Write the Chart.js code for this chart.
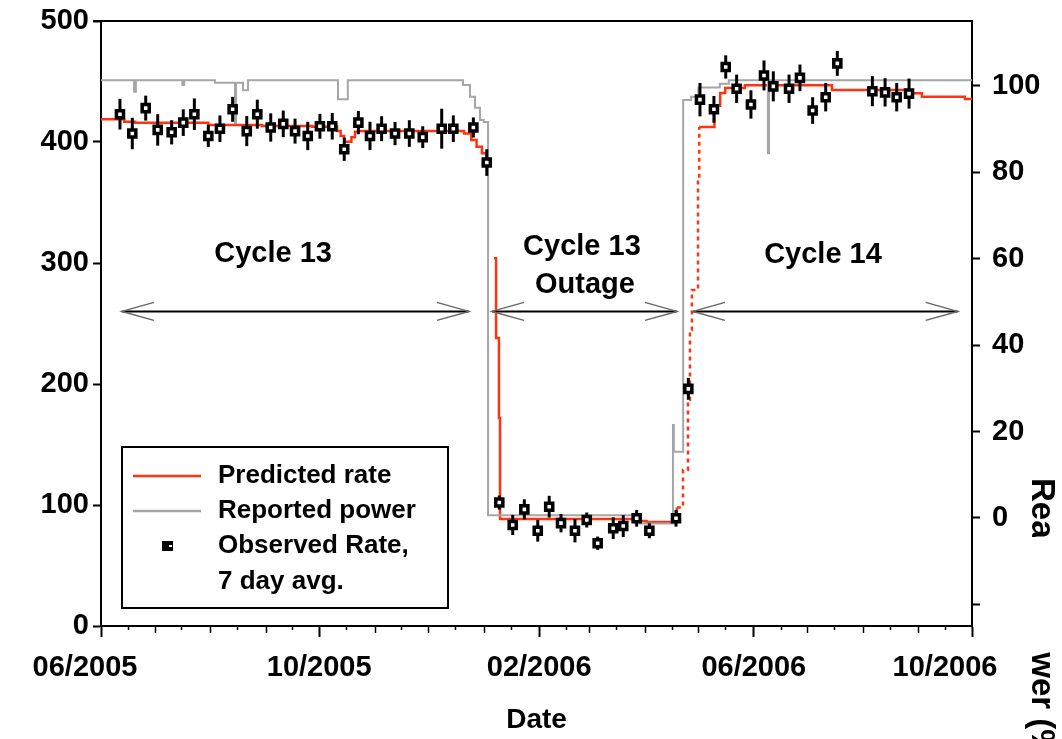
<!DOCTYPE html>
<html>
<head>
<meta charset="utf-8">
<title>Observed vs predicted rate</title>
<script src="https://cdn.jsdelivr.net/npm/chart.js@4.4.0/dist/chart.umd.min.js"></script>
<style>
  html, body { margin: 0; padding: 0; background: #fff; }
</style>
</head>
<body>
<canvas id="rate-chart" width="1062" height="739"></canvas>
<script>
// x values are days since 01/06/2005
const obsDays = [10.6, 17.5, 25, 31.7, 39.5, 46, 52.2, 60, 66.5, 73.6, 81.5, 87.4, 94.9, 101.9, 108.5, 115.6, 122.4, 129.3, 136, 143.9,
    150.4, 156.9, 164.4, 172.4, 179.9, 190.5, 197, 208.2, 215.7,
    222.7, 230.2, 236.7, 244.2, 250.6, 257.2, 265, 271.6, 277.7, 286.4, 292, 299.5, 306.6, 321.5, 328.4,
    334.9, 342.7, 349.3, 355.4, 363.4, 370.7, 375.9, 384.7, 390.8, 397.9, 405.2, 411.7, 431.3, 438.4, 444.9, 451.8];
const obsRate = [423, 407, 428, 410, 408, 416, 423, 405, 411, 427, 409, 423, 412, 415, 409, 405, 413, 413, 394, 416,
    405, 411, 407, 407, 404, 411, 411, 412, 383,
    102, 83.5, 96.4, 78.7, 98.6, 85, 78.7, 87.6, 68.4, 80.8, 82.6, 89, 78.7, 89, 196,
    435, 427, 462, 444, 431, 455, 446, 444, 453, 426, 437, 465, 442, 441, 437, 440];
const obsErr = [12.7, 13, 10.3, 13, 10, 11, 13, 9.2, 11, 10.3, 12.4, 12, 11.7, 11, 10.3, 11.7, 10.3, 11, 9.6, 9.6,
    11.7, 10.3, 9.6, 11, 9, 16.5, 11, 8.3, 11,
    5.8, 8.3, 8.3, 9, 9, 7.6, 9.6, 6.2, 5.5, 9, 9, 6.9, 6.2, 6.9, 9,
    13.8, 11, 9.6, 11.7, 11.7, 12.4, 12.4, 11.7, 11, 11, 11.7, 10.3, 12.4, 11.7, 11.7, 12.4];

const predDays = [0, 13, 19, 60, 90, 118, 132, 134, 136, 140, 142, 144, 203, 207, 210, 213, 215.5, 216.5,
    219.7, 220.9, 222.5, 223.1, 301.4, 305, 322, 325.4, 328.2, 329.3, 330.4, 333.8, 334.5, 343, 346.2, 349, 360,
    408.7, 450, 459, 483, 487];
const predRate = [418.7, 416.8, 416, 414, 413.2, 412.6, 409, 405, 400.3, 404, 408.5, 409, 407, 401.7, 396, 390.7, 385, null,
    304, 238, 172, 88.4, 86.8, 86, 98, 129, 187, 244.6, 277.7, 368.6, 412.4, 430, 440.5, 444.6, 447,
    443, 440.2, 437.4, 435.5, 435.5];

const powerDays = [0, 18.5, 19.5, 45.5, 46.5, 63.7, 74.9, 75.5, 79.4, 82.2, 132.5, 138, 202.4, 206.3, 209.1, 211.9, 214,
    216.4, 301.4, 319.8, 320.3, 325.5, 330, 334, 346, 351, 372.9, 373.5, 487];
const powerPct = [101.3, 98.6, 101.3, 100.2, 101.3, 100.7, 91.4, 100.7, 99, 101.3, 96.9, 101.3, 100.2, 97.5, 94.9, 92.1, 91.6,
    0.6, -1.3, 21.5, 15.3, 96.7, 97.5, 99.6, 100.5, 101.3, 84.4, 101.3, 101.3];

const dateLabels = ["06/2005", "10/2005", "02/2006", "06/2006", "10/2006"];
const dateLabelShift = [-16, 0, 0, 0, -27];
const rightTicks = [-20, 0, 20, 40, 60, 80, 100];

const seriesNames = ["Predicted rate", "Reported power", "Observed Rate,", "7 day avg."];
const phaseArrows = [[11.7, 205.7], [218.6, 322], [331, 479]];
const phaseText = [
    { text: "Cycle 13", day: 96.2, value: 307.4 },
    { text: "Cycle 13", day: 268.9, value: 313.2 },
    { text: "Outage", day: 270.6, value: 281.8 },
    { text: "Cycle 14", day: 403.7, value: 306.6 }
];

const FONT = "'Liberation Sans', Arial, sans-serif";
const RED = "#ff3311";
const GRAY = "#a6a6a6";

// month starts as day offsets
const start = Date.UTC(2005, 5, 1);
const monthDays = [];
const midMonthDays = [];
for (let m = 0; m <= 16; m++) {
    monthDays.push((Date.UTC(2005, 5 + m, 1) - start) / 86400000);
    if (m < 16) midMonthDays.push((Date.UTC(2005, 5 + m, 16) - start) / 86400000);
}
const labelledDays = monthDays.filter((d, i) => i % 4 === 0);

function pairs(xs, ys) {
    return xs.map((x, i) => ({ x: x, y: ys[i] }));
}

// vertical axes: fixed width, and no extra room for the top/bottom labels
function fitVertical(width) {
    return scale => {
        scale.width = width;
        scale.paddingTop = 0;
        scale.paddingBottom = 0;
    };
}

const errorBars = {
    id: "errorBars",
    beforeDatasetDraw(chart, args) {
        if (args.index !== 2) return;
        const ctx = chart.ctx;
        const x = chart.scales.x, y = chart.scales.y;
        ctx.save();
        ctx.strokeStyle = "#000";
        ctx.lineWidth = 3;
        obsDays.forEach((d, i) => {
            const px = x.getPixelForValue(d);
            ctx.beginPath();
            ctx.moveTo(px, y.getPixelForValue(obsRate[i] - obsErr[i]));
            ctx.lineTo(px, y.getPixelForValue(obsRate[i] + obsErr[i]));
            ctx.stroke();
        });
        ctx.restore();
    }
};

function arrowHead(ctx, x, y, dir) {
    ctx.beginPath();
    ctx.moveTo(x + dir * 32, y - 9);
    ctx.lineTo(x, y);
    ctx.lineTo(x + dir * 32, y + 9);
    ctx.stroke();
}

const decorations = {
    id: "decorations",
    afterDraw(chart) {
        const ctx = chart.ctx;
        const ca = chart.chartArea;
        const x = chart.scales.x, y = chart.scales.y;
        ctx.save();

        // top frame line
        ctx.strokeStyle = "#000";
        ctx.lineWidth = 2;
        ctx.beginPath();
        ctx.moveTo(ca.left - 8, ca.top);
        ctx.lineTo(ca.right, ca.top);
        ctx.stroke();

        // small x ticks
        ctx.lineWidth = 1.5;
        monthDays.forEach(d => {
            if (labelledDays.includes(d)) return;
            const px = Math.round(x.getPixelForValue(d)) + 0.5;
            ctx.beginPath();
            ctx.moveTo(px, ca.bottom);
            ctx.lineTo(px, ca.bottom + 7);
            ctx.stroke();
        });
        midMonthDays.forEach(d => {
            const px = Math.round(x.getPixelForValue(d)) + 0.5;
            ctx.beginPath();
            ctx.moveTo(px, ca.bottom);
            ctx.lineTo(px, ca.bottom + 4);
            ctx.stroke();
        });

        // date labels, the end ones pulled inwards like the source
        ctx.fillStyle = "#000";
        ctx.font = "bold 29px " + FONT;
        ctx.textAlign = "center";
        ctx.textBaseline = "middle";
        labelledDays.forEach((d, i) => {
            ctx.fillText(dateLabels[i], x.getPixelForValue(d) + dateLabelShift[i], ca.bottom + 42);
        });

        // phase arrows and text
        const ay = y.getPixelForValue(260);
        phaseArrows.forEach(a => {
            const x1 = x.getPixelForValue(a[0]);
            const x2 = x.getPixelForValue(a[1]);
            ctx.strokeStyle = "#000";
            ctx.lineWidth = 2;
            ctx.beginPath();
            ctx.moveTo(x1, ay);
            ctx.lineTo(x2, ay);
            ctx.stroke();
            ctx.strokeStyle = "#666";
            ctx.lineWidth = 1.5;
            arrowHead(ctx, x1, ay, 1);
            arrowHead(ctx, x2, ay, -1);
        });
        ctx.fillStyle = "#000";
        phaseText.forEach(t => {
            ctx.fillText(t.text, x.getPixelForValue(t.day), y.getPixelForValue(t.value));
        });

        // legend box
        const lx = ca.left + 21, ly = ca.bottom - 179;
        ctx.fillStyle = "#fff";
        ctx.fillRect(lx, ly, 326, 161);
        ctx.strokeStyle = "#000";
        ctx.lineWidth = 2;
        ctx.strokeRect(lx, ly, 326, 161);
        const rows = [ly + 29, ly + 64, ly + 99, ly + 135];
        ctx.lineWidth = 2.5;
        ctx.strokeStyle = RED;
        ctx.beginPath(); ctx.moveTo(lx + 11, rows[0]); ctx.lineTo(lx + 79, rows[0]); ctx.stroke();
        ctx.strokeStyle = GRAY;
        ctx.beginPath(); ctx.moveTo(lx + 11, rows[1]); ctx.lineTo(lx + 79, rows[1]); ctx.stroke();
        ctx.fillStyle = "#000";
        ctx.fillRect(lx + 40, rows[2] - 5, 11, 10);
        ctx.fillStyle = "#fff";
        ctx.fillRect(lx + 47, rows[2] - 1, 3, 2);
        ctx.fillStyle = "#000";
        ctx.font = "bold 26px " + FONT;
        ctx.textAlign = "left";
        seriesNames.forEach((s, i) => ctx.fillText(s, lx + 96, rows[i]));

        // right axis title, partly hidden as in the source figure
        ctx.save();
        ctx.beginPath();
        ctx.rect(ca.right + 50, 0, 60, 537);
        ctx.rect(ca.right + 50, 652, 60, 100);
        ctx.clip();
        ctx.translate(ca.right + 60, 478);
        ctx.rotate(Math.PI / 2);
        ctx.font = "bold 33px " + FONT;
        ctx.textBaseline = "alphabetic";
        ctx.fillText("Reactor Power (%)", 0, 0);
        ctx.restore();

        ctx.restore();
    }
};

const tickFont = { family: FONT, size: 29, weight: "bold" };

new Chart(document.getElementById("rate-chart"), {
    type: "line",
    data: {
        datasets: [
            {
                label: "Predicted rate",
                data: pairs(predDays, predRate),
                yAxisID: "y",
                borderColor: RED,
                borderWidth: 2.5,
                pointRadius: 0,
                stepped: true,
                spanGaps: false,
                order: 3,
                segment: {
                    borderDash: c => (c.p0.parsed.x >= 322 && c.p0.parsed.x < 334) ? [4, 4] : undefined
                }
            },
            {
                label: "Reported power",
                data: pairs(powerDays, powerPct),
                yAxisID: "y1",
                borderColor: GRAY,
                borderWidth: 2,
                pointRadius: 0,
                stepped: true,
                order: 2
            },
            {
                label: "Observed Rate, 7 day avg.",
                data: pairs(obsDays, obsRate),
                yAxisID: "y",
                showLine: false,
                pointStyle: "rect",
                pointRadius: 5,
                pointBackgroundColor: "#fff",
                pointBorderColor: "#000",
                pointBorderWidth: 3.5,
                order: 1
            }
        ]
    },
    options: {
        responsive: false,
        animation: false,
        layout: { padding: { top: 21, left: 0, right: 0, bottom: 0 } },
        plugins: {
            legend: { display: false },
            tooltip: { enabled: false }
        },
        scales: {
            x: {
                type: "linear",
                min: 0,
                max: monthDays[monthDays.length - 1],
                afterBuildTicks: scale => { scale.ticks = monthDays.map(v => ({ value: v })); },
                afterFit: scale => {
                    scale.height = 113;
                    scale.paddingLeft = 0;
                    scale.paddingRight = 0;
                },
                ticks: {
                    autoSkip: false,
                    maxRotation: 0,
                    callback: () => ""
                },
                grid: {
                    drawOnChartArea: false,
                    tickLength: 11,
                    tickWidth: 2,
                    tickColor: c => labelledDays.includes(c.tick && c.tick.value) ? "#000" : "rgba(0,0,0,0)"
                },
                border: { color: "#000", width: 2 },
                title: {
                    display: true,
                    text: "Date",
                    color: "#000",
                    font: { family: FONT, size: 28, weight: "bold" },
                    padding: { top: 0, bottom: 2 }
                }
            },
            y: {
                position: "left",
                min: 0,
                max: 500,
                afterFit: fitVertical(101),
                ticks: { stepSize: 100, padding: 4, color: "#000", font: tickFont },
                grid: { drawOnChartArea: false, tickLength: 8, tickWidth: 2, tickColor: "#000" },
                border: { color: "#000", width: 2 }
            },
            y1: {
                position: "right",
                min: -25,
                max: 115,
                afterBuildTicks: scale => { scale.ticks = rightTicks.map(v => ({ value: v })); },
                afterFit: fitVertical(90),
                ticks: {
                    padding: 12,
                    color: "#000",
                    font: tickFont,
                    callback: value => value < 0 ? "" : value
                },
                grid: { drawOnChartArea: false, tickLength: 8, tickWidth: 2, tickColor: "#000" },
                border: { color: "#000", width: 2 }
            }
        }
    },
    plugins: [errorBars, decorations]
});
</script>
</body>
</html>
